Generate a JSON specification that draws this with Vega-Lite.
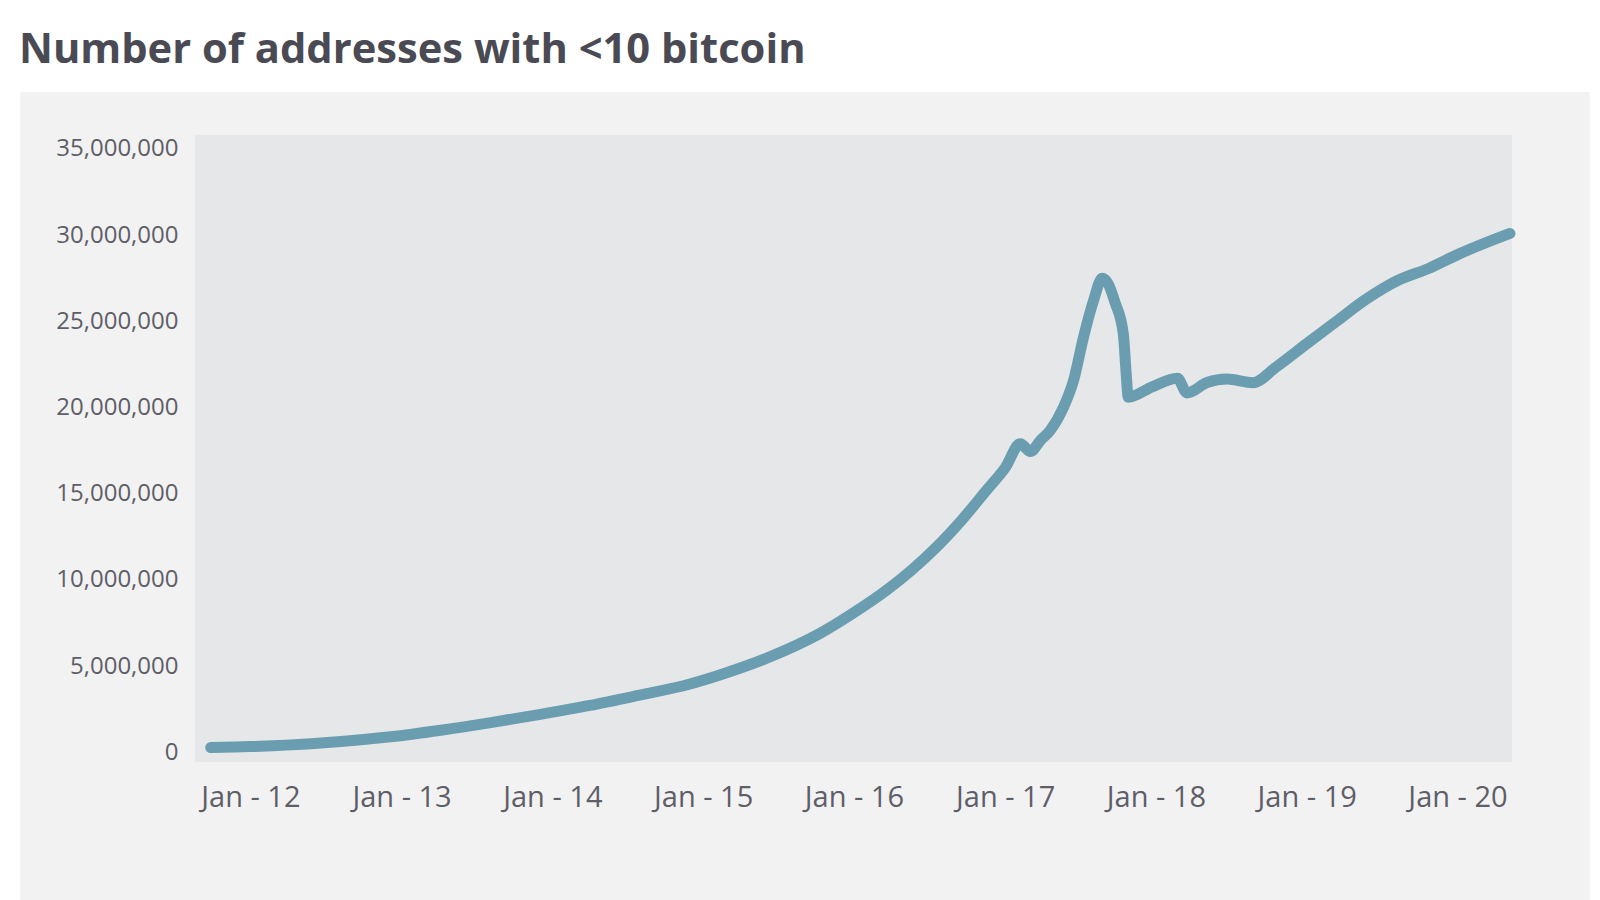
{
  "$schema": "https://vega.github.io/schema/vega-lite/v6.json",
  "autosize": {"type": "none"},
  "width": 1317,
  "height": 627,
  "padding": {"left": 195, "top": 135, "right": 88, "bottom": 138},
  "background": "#ffffff",
  "title": {
    "text": "Number of addresses with <10 bitcoin",
    "anchor": "start",
    "frame": "group",
    "dx": -176,
    "offset": -13,
    "baseline": "alphabetic",
    "font": "Open Sans",
    "fontSize": 41.7,
    "fontWeight": "bold",
    "color": "#4a4a54"
  },
  "config": {
    "view": {"stroke": null},
    "axis": {"grid": false, "domain": false, "ticks": false, "tickSize": 0, "title": null}
  },
  "data": {
    "values": [
      {"date": "2011-09-27", "addresses": 280000},
      {"date": "2012-01-01", "addresses": 330000},
      {"date": "2012-04-08", "addresses": 430000},
      {"date": "2012-08-07", "addresses": 630000},
      {"date": "2012-12-06", "addresses": 900000},
      {"date": "2013-04-06", "addresses": 1280000},
      {"date": "2013-08-05", "addresses": 1720000},
      {"date": "2013-12-03", "addresses": 2200000},
      {"date": "2014-04-02", "addresses": 2720000},
      {"date": "2014-07-31", "addresses": 3320000},
      {"date": "2014-11-28", "addresses": 3950000},
      {"date": "2015-02-12", "addresses": 4500000},
      {"date": "2015-06-13", "addresses": 5550000},
      {"date": "2015-10-11", "addresses": 6900000},
      {"date": "2016-01-01", "addresses": 8100000},
      {"date": "2016-03-21", "addresses": 9420000},
      {"date": "2016-05-21", "addresses": 10600000},
      {"date": "2016-07-20", "addresses": 11930000},
      {"date": "2016-09-19", "addresses": 13500000},
      {"date": "2016-11-17", "addresses": 15200000},
      {"date": "2017-01-01", "addresses": 16500000},
      {"date": "2017-02-07", "addresses": 17900000},
      {"date": "2017-03-03", "addresses": 17450000},
      {"date": "2017-03-28", "addresses": 18100000},
      {"date": "2017-04-21", "addresses": 18700000},
      {"date": "2017-05-22", "addresses": 20000000},
      {"date": "2017-06-16", "addresses": 21600000},
      {"date": "2017-07-10", "addresses": 24100000},
      {"date": "2017-08-03", "addresses": 26200000},
      {"date": "2017-08-24", "addresses": 27500000},
      {"date": "2017-09-07", "addresses": 27200000},
      {"date": "2017-09-24", "addresses": 26100000},
      {"date": "2017-10-14", "addresses": 24300000},
      {"date": "2017-10-21", "addresses": 22000000},
      {"date": "2017-10-26", "addresses": 20600000},
      {"date": "2017-12-23", "addresses": 21200000},
      {"date": "2018-02-22", "addresses": 21700000},
      {"date": "2018-03-17", "addresses": 20850000},
      {"date": "2018-05-05", "addresses": 21450000},
      {"date": "2018-06-22", "addresses": 21650000},
      {"date": "2018-08-24", "addresses": 21440000},
      {"date": "2018-10-18", "addresses": 22330000},
      {"date": "2019-01-01", "addresses": 23700000},
      {"date": "2019-03-14", "addresses": 25000000},
      {"date": "2019-05-26", "addresses": 26300000},
      {"date": "2019-08-09", "addresses": 27370000},
      {"date": "2019-10-23", "addresses": 28070000},
      {"date": "2020-01-04", "addresses": 28900000},
      {"date": "2020-05-07", "addresses": 30100000}
    ]
  },
  "layer": [
    {
      "data": {"values": [{}]},
      "mark": {"type": "rect", "color": "#f2f2f2", "clip": false},
      "encoding": {
        "x": {"datum": {"year": 2010, "month": 6, "date": 23}, "type": "temporal"},
        "x2": {"datum": {"year": 2020, "month": 11, "date": 16}},
        "y": {"datum": -8600000, "type": "quantitative"},
        "y2": {"datum": 38300000}
      }
    },
    {
      "data": {"values": [{}]},
      "mark": {"type": "rect", "color": "#e6e7e9", "clip": false},
      "encoding": {
        "x": {"datum": {"year": 2011, "month": 8, "date": 20}, "type": "temporal"},
        "x2": {"datum": {"year": 2020, "month": 5, "date": 12}},
        "y": {"datum": -563000, "type": "quantitative"},
        "y2": {"datum": 35810000}
      }
    },
    {
      "mark": {"type": "line", "color": "#6a9db0", "strokeWidth": 11, "strokeCap": "round", "strokeJoin": "round", "interpolate": "monotone"},
      "encoding": {
        "x": {
          "field": "date",
          "type": "temporal",
          "scale": {"domain": [{"year": 2011, "month": 8, "date": 20}, {"year": 2020, "month": 5, "date": 12}], "nice": false},
          "axis": {
            "zindex": 2,
            "values": [
              {"year": 2012, "month": 1, "date": 1},
              {"year": 2013, "month": 1, "date": 1},
              {"year": 2014, "month": 1, "date": 1},
              {"year": 2015, "month": 1, "date": 1},
              {"year": 2016, "month": 1, "date": 1},
              {"year": 2017, "month": 1, "date": 1},
              {"year": 2018, "month": 1, "date": 1},
              {"year": 2019, "month": 1, "date": 1},
              {"year": 2020, "month": 1, "date": 1}
            ],
            "format": "Jan - %y",
            "labelFont": "Open Sans",
            "labelFontSize": 29,
            "labelColor": "#5e5e68",
            "labelBaseline": "alphabetic",
            "labelPadding": 44,
            "labelFlush": false,
            "labelOverlap": false
          }
        },
        "y": {
          "field": "addresses",
          "type": "quantitative",
          "scale": {"domain": [-563000, 35810000], "nice": false, "zero": false},
          "axis": {
            "zindex": 2,
            "values": [0, 5000000, 10000000, 15000000, 20000000, 25000000, 30000000, 35000000],
            "format": ",d",
            "labelFont": "Open Sans",
            "labelFontSize": 24,
            "labelColor": "#5e5e68",
            "labelPadding": 17
          }
        }
      }
    }
  ]
}
